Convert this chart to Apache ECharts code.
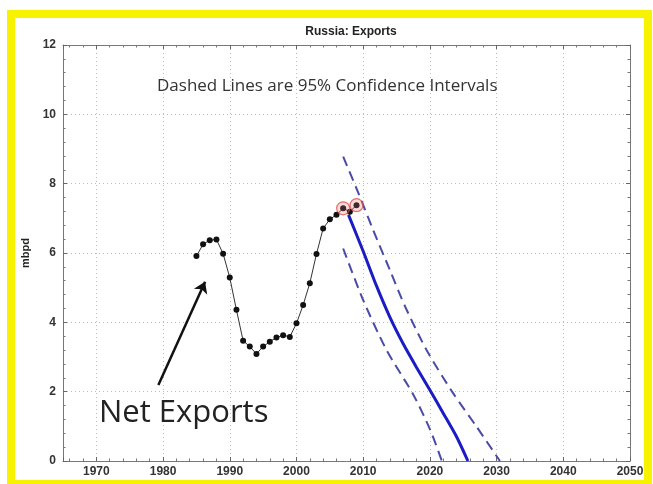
<!DOCTYPE html>
<html>
<head>
<meta charset="utf-8">
<script src="https://cdn.jsdelivr.net/npm/echarts@6/dist/echarts.min.js"></script>
<style>
html,body{margin:0;padding:0;background:#fff;}
#chart{width:653px;height:484px;}
</style>
</head>
<body>
<div id="chart"></div>
<script>
// ---- data ----
const years = [1985,1986,1987,1988,1989,1990,1991,1992,1993,1994,1995,1996,1997,1998,1999,2000,2001,2002,2003,2004,2005,2006,2007,2008,2009];
const netExports = [5.91,6.25,6.37,6.39,5.98,5.29,4.36,3.47,3.30,3.09,3.30,3.44,3.56,3.63,3.58,3.97,4.50,5.13,5.97,6.71,6.97,7.10,7.29,7.19,7.38];
const highlightYears = [2007, 2009];
const highlightValues = [7.29, 7.38];
const centralYears = [2007.8, 2010, 2012, 2014, 2016, 2018, 2020, 2022, 2024, 2025.7];
const centralValues = [7.1, 6.05, 5.05, 4.15, 3.38, 2.7, 2.05, 1.38, 0.7, 0];
const upperYears = [2007, 2009.3, 2011.5, 2014, 2016.3, 2019.5, 2023.5, 2027, 2030.5];
const upperValues = [8.78, 7.72, 6.66, 5.51, 4.45, 3.2, 1.95, 0.99, 0];
const lowerYears = [2007, 2010, 2013.5, 2017.5, 2020, 2021.8];
const lowerValues = [6.13, 4.64, 3.2, 1.92, 0.92, 0];
const arrowFrom = [1979.3, 2.19];
const arrowTo = [1986.3, 5.17];
const xMin = 1965, xMax = 2050;
const yMin = 0, yMax = 12, yStep = 2;
const titleText = 'Russia: Exports';
const yName = 'mbpd';
const noteText = 'Dashed Lines are 95% Confidence Intervals';
const labelText = 'Net Exports';

const pairs = (xs, ys) => xs.map((x, i) => [x, ys[i]]);

const chart = echarts.init(document.getElementById('chart'), null, {renderer: 'canvas'});

const tickCommon = {
  axisLine: {show: true, onZero: false, lineStyle: {color: '#777', width: 1}},
  axisTick: {show: true, inside: true, length: 4, lineStyle: {color: '#666'}},
  minorTick: {show: true, splitNumber: 5, length: 2.5, lineStyle: {color: '#777'}}
};
const labelFont = {color: '#333', fontWeight: 'bold', fontSize: 12, fontFamily: 'Liberation Sans, Arial, sans-serif'};

const option = {
  backgroundColor: '#fff',
  animation: false,
  title: {
    text: titleText, left: 346, top: 21, textAlign: 'center',
    textStyle: {fontSize: 12, fontWeight: 'bold', color: '#222', fontFamily: 'Liberation Sans, Arial, sans-serif'}
  },
  grid: {left: 63, right: 23, top: 45, bottom: 23},
  xAxis: [
    Object.assign({
      type: 'value', min: xMin, max: xMax, splitNumber: 8, position: 'bottom',
      axisLabel: Object.assign({margin: 5, showMinLabel: false, formatter: v => String(v)}, labelFont),
      splitLine: {show: true, lineStyle: {type: [1, 3], color: '#bbb', width: 1}}
    }, tickCommon),
    Object.assign({
      type: 'value', min: xMin, max: xMax, splitNumber: 8, position: 'top',
      axisLabel: {show: false}, splitLine: {show: false}
    }, tickCommon)
  ],
  yAxis: [
    Object.assign({
      type: 'value', min: yMin, max: yMax, interval: yStep, position: 'left',
      name: yName, nameLocation: 'middle', nameGap: 30, nameRotate: 90,
      nameTextStyle: {fontSize: 11, fontWeight: 'bold', color: '#222', fontFamily: 'Liberation Sans, Arial, sans-serif'},
      axisLabel: Object.assign({margin: 7}, labelFont),
      splitLine: {show: true, lineStyle: {type: [1, 3], color: '#bbb', width: 1}}
    }, tickCommon),
    Object.assign({
      type: 'value', min: yMin, max: yMax, interval: yStep, position: 'right',
      axisLabel: {show: false}, splitLine: {show: false}
    }, tickCommon)
  ],
  series: [
    {
      type: 'line', name: 'upper', data: pairs(upperYears, upperValues), smooth: 0.25,
      symbol: 'none', lineStyle: {color: '#4a4aa8', width: 2, type: [10, 6]}, z: 3
    },
    {
      type: 'line', name: 'lower', data: pairs(lowerYears, lowerValues), smooth: 0.25,
      symbol: 'none', lineStyle: {color: '#4a4aa8', width: 2, type: [10, 6]}, z: 3
    },
    {
      type: 'line', name: 'central', data: pairs(centralYears, centralValues), smooth: 0.25,
      symbol: 'none', lineStyle: {color: '#1c1cc4', width: 3}, z: 4
    },
    {
      type: 'line', name: 'Net Exports', data: pairs(years, netExports),
      symbol: 'circle', symbolSize: 6, itemStyle: {color: '#111'},
      lineStyle: {color: '#333', width: 1}, z: 5
    },
    {
      type: 'scatter', name: 'highlight', data: pairs(highlightYears, highlightValues),
      symbol: 'circle', symbolSize: 13,
      itemStyle: {color: 'rgba(235,110,110,0.3)', borderColor: '#d85050', borderWidth: 1.2}, z: 6
    },
    {
      type: 'lines', coordinateSystem: 'cartesian2d', z: 7,
      symbol: ['none', 'arrow'], symbolSize: 11,
      lineStyle: {color: '#111', width: 2.5, opacity: 1},
      data: [{coords: [arrowFrom, arrowTo]}]
    }
  ],
  graphic: [
    {
      type: 'rect', silent: true, z: 100,
      shape: {x: 11, y: 14, width: 637, height: 470},
      style: {fill: 'none', stroke: '#f7f200', lineWidth: 8}
    },
    {
      type: 'text', left: 157, top: 78, z: 50,
      style: {text: noteText, fontSize: 17, fill: '#333', fontFamily: 'Open Sans, sans-serif'}
    },
    {
      type: 'text', left: 99, top: 398, z: 50,
      style: {text: labelText, fontSize: 31, fill: '#222', fontFamily: 'Open Sans, sans-serif'}
    }
  ]
};
chart.setOption(option);
</script>
</body>
</html>
